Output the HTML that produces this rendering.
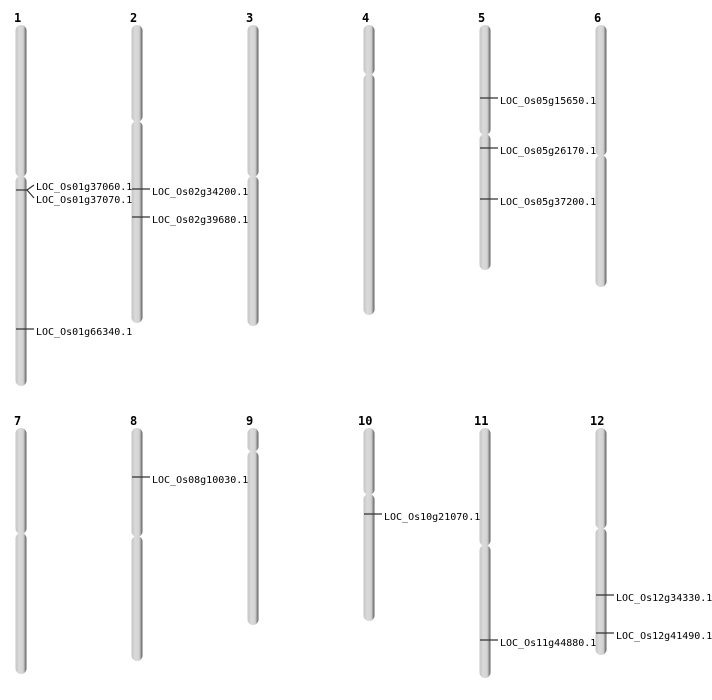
<!DOCTYPE html>
<html><head><meta charset="utf-8"><style>
html,body{margin:0;padding:0;background:#fff;width:712px;height:700px;overflow:hidden}
text{font-family:"DejaVu Sans Mono","Liberation Mono",monospace;font-size:10px;fill:#000}
.n{font-weight:bold;font-size:12px}
line{stroke:#333;stroke-width:1.2}
</style></head><body>
<svg width="712" height="700" xmlns="http://www.w3.org/2000/svg">
<defs><linearGradient id="g" x1="0" x2="1" y1="0" y2="0">
<stop offset="0" stop-color="#c4c4c4"/><stop offset="0.35" stop-color="#dadada"/><stop offset="0.7" stop-color="#d2d2d2"/><stop offset="0.85" stop-color="#9a9a9a"/><stop offset="1" stop-color="#5a5a5a"/></linearGradient></defs>
<g fill="url(#g)">
<rect x="15.5" y="25" width="11" height="152" rx="5.5"/><rect x="15.5" y="176" width="11" height="210" rx="5.5"/>
<rect x="131.5" y="25" width="11" height="97" rx="5.5"/><rect x="131.5" y="121" width="11" height="202" rx="5.5"/>
<rect x="247.5" y="25" width="11" height="152" rx="5.5"/><rect x="247.5" y="176" width="11" height="150" rx="5.5"/>
<rect x="363.5" y="25" width="11" height="50" rx="5.5"/><rect x="363.5" y="74" width="11" height="241" rx="5.5"/>
<rect x="479.5" y="25" width="11" height="110" rx="5.5"/><rect x="479.5" y="134" width="11" height="136" rx="5.5"/>
<rect x="595.5" y="25" width="11" height="131" rx="5.5"/><rect x="595.5" y="155" width="11" height="132" rx="5.5"/>
<rect x="15.5" y="428" width="11" height="106" rx="5.5"/><rect x="15.5" y="533" width="11" height="141" rx="5.5"/>
<rect x="131.5" y="428" width="11" height="109" rx="5.5"/><rect x="131.5" y="536" width="11" height="125" rx="5.5"/>
<rect x="247.5" y="428" width="11" height="24" rx="5.5"/><rect x="247.5" y="451" width="11" height="174" rx="5.5"/>
<rect x="363.5" y="428" width="11" height="67" rx="5.5"/><rect x="363.5" y="494" width="11" height="127" rx="5.5"/>
<rect x="479.5" y="428" width="11" height="118" rx="5.5"/><rect x="479.5" y="545" width="11" height="133" rx="5.5"/>
<rect x="595.5" y="428" width="11" height="101" rx="5.5"/><rect x="595.5" y="528" width="11" height="127" rx="5.5"/>
</g>
<text class="n" x="14" y="22">1</text><text class="n" x="130" y="22">2</text><text class="n" x="246" y="22">3</text>
<text class="n" x="362" y="22">4</text><text class="n" x="478" y="22">5</text><text class="n" x="594" y="22">6</text>
<text class="n" x="14" y="425">7</text><text class="n" x="130" y="425">8</text><text class="n" x="246" y="425">9</text>
<text class="n" x="358" y="425">10</text><text class="n" x="474" y="425">11</text><text class="n" x="590" y="425">12</text>
<line x1="16" y1="190" x2="27" y2="190"/><line x1="27" y1="190" x2="34" y2="185"/><line x1="27" y1="190" x2="34" y2="198"/>
<text x="36" y="190">LOC_Os01g37060.1</text><text x="36" y="203">LOC_Os01g37070.1</text>
<line x1="16" y1="329" x2="34" y2="329"/><text x="36" y="335">LOC_Os01g66340.1</text>
<line x1="132" y1="189" x2="150" y2="189"/><text x="152" y="195">LOC_Os02g34200.1</text>
<line x1="132" y1="217" x2="150" y2="217"/><text x="152" y="223">LOC_Os02g39680.1</text>
<line x1="480" y1="98" x2="498" y2="98"/><text x="500" y="104">LOC_Os05g15650.1</text>
<line x1="480" y1="148" x2="498" y2="148"/><text x="500" y="154">LOC_Os05g26170.1</text>
<line x1="480" y1="199" x2="498" y2="199"/><text x="500" y="205">LOC_Os05g37200.1</text>
<line x1="132" y1="477" x2="150" y2="477"/><text x="152" y="483">LOC_Os08g10030.1</text>
<line x1="364" y1="514" x2="382" y2="514"/><text x="384" y="520">LOC_Os10g21070.1</text>
<line x1="480" y1="640" x2="498" y2="640"/><text x="500" y="646">LOC_Os11g44880.1</text>
<line x1="596" y1="595" x2="614" y2="595"/><text x="616" y="601">LOC_Os12g34330.1</text>
<line x1="596" y1="633" x2="614" y2="633"/><text x="616" y="639">LOC_Os12g41490.1</text>
</svg>
</body></html>
